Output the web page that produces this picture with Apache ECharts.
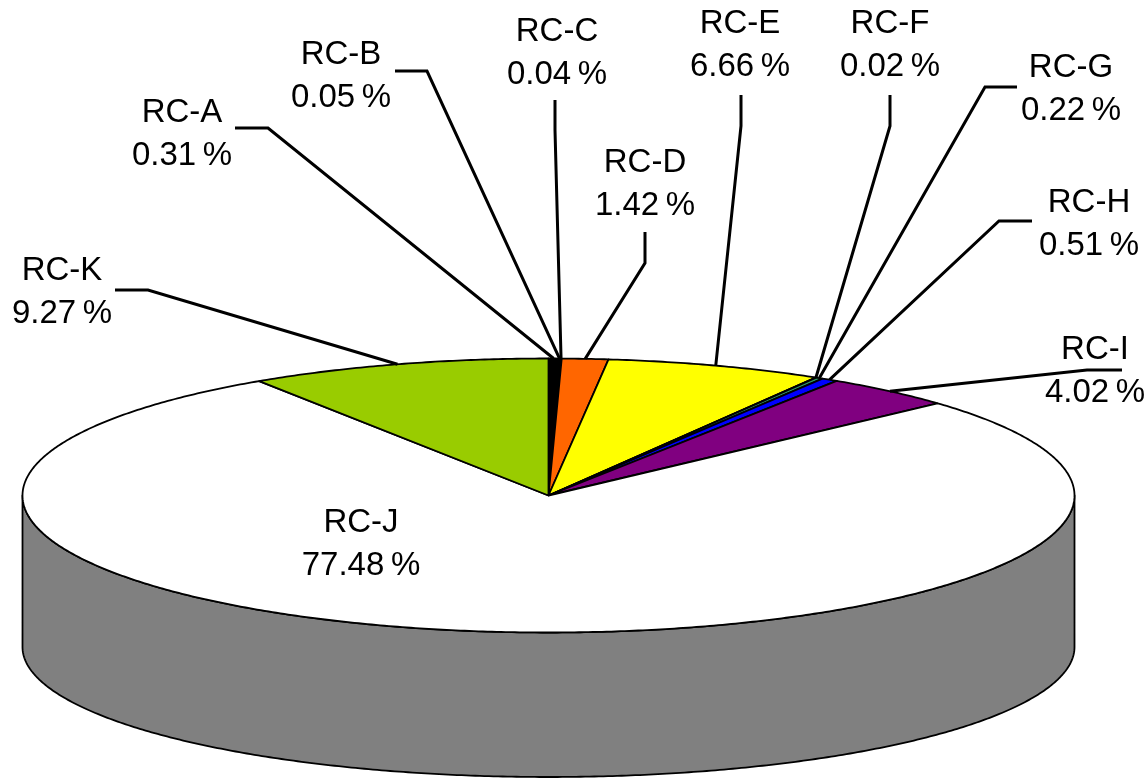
<!DOCTYPE html>
<html>
<head>
<meta charset="utf-8">
<title>RC share</title>
<style>
  html, body { margin: 0; padding: 0; background: #fff; }
  #chart { width: 1148px; height: 778px; }
</style>
<script src="https://cdn.jsdelivr.net/npm/echarts@6/dist/echarts.min.js"></script>
</head>
<body>
<div id="chart"></div>
<script>
// chart data
const categories = ['RC-A', 'RC-B', 'RC-C', 'RC-D', 'RC-E', 'RC-F', 'RC-G', 'RC-H', 'RC-I', 'RC-J', 'RC-K']
const shares = [0.31, 0.05, 0.04, 1.42, 6.66, 0.02, 0.22, 0.51, 4.02, 77.48, 9.27]

// slice colours
const colors = ['#000000', '#000080', '#993300', '#FF6600', '#FFFF00', '#008000', '#339966', '#0000FF', '#800080', '#FFFFFF', '#99CC00']

// label centre [x, y of first line], leader elbow pieces, by category
const labelPos = [
  [182, 113], [341, 55], [557, 32], [645, 163], [740, 24], [890, 24],
  [1071, 68], [1089, 203], [1095, 350], [361, 523], [62, 271]
]
const leaderPos = [
  [[235, 128], [268, 128]],
  [[395, 71], [427, 71]],
  [[555, 100], [555, 130]],
  [[645, 232], [645, 263]],
  [[741, 95], [741, 126]],
  [[890, 95], [890, 126]],
  [[1017, 87], [985, 87]],
  [[1032, 221], [999, 221]],
  [[1122, 370], [1087, 370]],
  null,
  [[115, 290], [148, 290]]
]

// disc geometry
const topRim = { cx: 548.5, cy: 495.5, rx: 526, ry: 137 }
const bottomRim = { cx: 548.5, cy: 647, rx: 526, ry: 130 }
const labelFont = '33px "Liberation Sans", Arial, sans-serif'
const lineGap = 43

const total = shares.reduce((a, b) => a + b, 0)

// theta in degrees, clockwise from the back of the disc
const rimPoint = (e, theta) => {
  const r = theta * Math.PI / 180
  return [e.cx + e.rx * Math.sin(r), e.cy - e.ry * Math.cos(r)]
}

const arcPoints = (e, from, to) => {
  const n = Math.max(2, Math.ceil(Math.abs(to - from) * 2))
  const pts = []
  for (let i = 0; i <= n; i++) {
    pts.push(rimPoint(e, from + (to - from) * i / n))
  }
  return pts
}

// running start / end angle for each slice
let running = 0
const sliceRows = shares.map((v, i) => {
  const start = running / total * 360
  running += v
  return [i, v, start, running / total * 360]
})

const renderWall = () => ({
  type: 'polygon',
  shape: { points: arcPoints(topRim, 90, 270).concat(arcPoints(bottomRim, 270, 90)) },
  style: { fill: '#808080', stroke: '#000', lineWidth: 1.8, lineJoin: 'round' }
})

const renderSlice = (params, api) => {
  const i = api.value(0)
  return {
    type: 'polygon',
    shape: { points: [[topRim.cx, topRim.cy]].concat(arcPoints(topRim, api.value(2), api.value(3))) },
    style: { fill: colors[i], stroke: '#000', lineWidth: 1.8, lineJoin: 'round' }
  }
}

const renderLabel = (params, api) => {
  const i = api.value(0)
  const children = []
  const leader = leaderPos[i]
  if (leader) {
    const mid = (api.value(2) + api.value(3)) / 2
    children.push({
      type: 'polyline',
      shape: { points: leader.concat([rimPoint(topRim, mid)]) },
      style: { fill: 'none', stroke: '#000', lineWidth: 3, lineJoin: 'miter' }
    })
  }
  const [x, y] = labelPos[i]
  const textLines = [categories[i], api.value(1).toFixed(2) + '\u2009%']
  textLines.forEach((t, k) => {
    children.push({
      type: 'text',
      style: {
        text: t,
        x: x,
        y: y + k * lineGap,
        align: 'center',
        verticalAlign: 'middle',
        font: labelFont,
        fill: '#000'
      }
    })
  })
  return { type: 'group', children }
}

const chart = echarts.init(document.getElementById('chart'), null, { renderer: 'canvas' })

const option = {
  animation: false,
  backgroundColor: '#fff',
  series: [
    { type: 'custom', coordinateSystem: 'none', silent: true, z: 1, data: [[0]], renderItem: renderWall },
    { type: 'custom', coordinateSystem: 'none', silent: true, z: 2, data: sliceRows, renderItem: renderSlice },
    { type: 'custom', coordinateSystem: 'none', silent: true, z: 3, data: sliceRows, renderItem: renderLabel }
  ]
}

chart.setOption(option)

window.addEventListener('resize', () => chart.resize())
</script>
</body>
</html>
